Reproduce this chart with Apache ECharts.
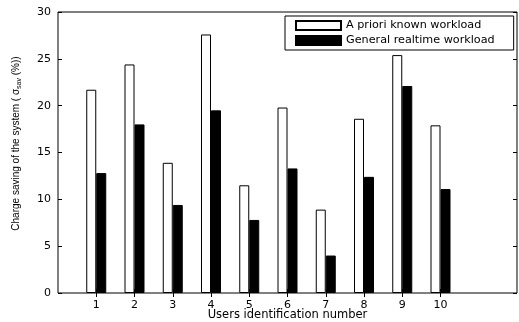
<!DOCTYPE html>
<html>
<head>
<meta charset="utf-8">
<script src="https://cdn.jsdelivr.net/npm/echarts@6/dist/echarts.min.js"></script>
<style>
  html, body { margin: 0; padding: 0; background: #fff; }
  #chart { width: 519px; height: 322px; }
</style>
</head>
<body>
<div id="chart"></div>
<script>
// user ids on the x axis (axis runs 0..12, only 1..10 are labelled)
var userIds = ['1', '2', '3', '4', '5', '6', '7', '8', '9', '10'];
var padLeft = ['0'];
var padRight = ['11', '12'];

// charge saving (%)
var aprioriKnown = [21.7, 24.4, 13.9, 27.6, 11.5, 19.8, 8.9, 18.6, 25.4, 17.9];
var generalRealtime = [12.8, 18.0, 9.4, 19.5, 7.8, 13.3, 4.0, 12.4, 22.1, 11.1];

var yTicks = [0, 5, 10, 15, 20, 25, 30];

var axisCats = padLeft.concat(userIds, padRight);
function pad(arr) {
    return padLeft.map(function () { return '-'; })
        .concat(arr, padRight.map(function () { return '-'; }));
}
function isUser(index) {
    return index >= padLeft.length && index < padLeft.length + userIds.length;
}

// the original figure is stretched sideways, so horizontal text uses the wider DejaVu
var wideFont = 'DejaVu Sans, sans-serif';
var font = 'Liberation Sans, Arial, Helvetica, sans-serif';
var myChart = echarts.init(document.getElementById('chart'));

var option = {
    animation: false,
    textStyle: { fontFamily: wideFont },
    grid: {
        left: 58, right: 2, top: 12, bottom: 29,
        outerBoundsMode: 'none',
        show: true, borderColor: '#000', borderWidth: 1, backgroundColor: '#fff'
    },
    legend: {
        orient: 'vertical',
        left: 285, top: 16,
        padding: [4, 19, 4, 10],
        itemGap: 4,
        itemWidth: 45, itemHeight: 9,
        icon: 'rect',
        borderColor: '#000', borderWidth: 1,
        backgroundColor: '#fff',
        textStyle: { fontSize: 11.2, lineHeight: 9, color: '#000', fontFamily: wideFont },
        data: ['A priori known workload', 'General realtime workload']
    },
    xAxis: [{
        type: 'category',
        data: axisCats,
        boundaryGap: false,
        name: 'Users identification number',
        nameLocation: 'middle',
        nameGap: 16,
        nameMoveOverlap: false,
        nameTextStyle: { fontSize: 11.5, color: '#000', fontFamily: wideFont },
        axisLine: { show: false },
        axisTick: { inside: true, length: 4, interval: function (i) { return isUser(i); }, lineStyle: { color: '#000' } },
        axisLabel: { interval: function (i) { return isUser(i); }, fontSize: 11, color: '#000', margin: 7, fontFamily: wideFont },
        splitLine: { show: false }
    }, {
        type: 'category',
        position: 'top',
        data: axisCats,
        boundaryGap: false,
        axisLine: { show: false },
        axisTick: { inside: true, length: 4, interval: function (i) { return isUser(i); }, lineStyle: { color: '#000' } },
        axisLabel: { show: false },
        splitLine: { show: false }
    }],
    yAxis: [{
        type: 'value',
        min: yTicks[0], max: yTicks[yTicks.length - 1], interval: 5,
        name: '{a0|Charge saving of the system ( σ}{b|sav}{a| (%))}',
        nameLocation: 'middle',
        nameRotate: 90,
        nameGap: 35,
        nameMoveOverlap: false,
        nameTextStyle: {
            color: '#000',
            rich: {
                a0: { fontSize: 10, color: '#000', fontFamily: font, padding: [0, 0, 0, 18] },
                a: { fontSize: 10, color: '#000', fontFamily: font },
                b: { fontSize: 7, color: '#000', fontFamily: font, padding: [6, 0, 0, 0] }
            }
        },
        axisLine: { show: false },
        axisTick: { show: true, inside: true, length: 4, lineStyle: { color: '#000' } },
        axisLabel: { fontSize: 11, color: '#000', margin: 7, fontFamily: wideFont },
        splitLine: { show: false }
    }, {
        type: 'value',
        position: 'right',
        min: yTicks[0], max: yTicks[yTicks.length - 1], interval: 5,
        axisLine: { show: false },
        axisTick: { show: true, inside: true, length: 4, lineStyle: { color: '#000' } },
        axisLabel: { show: false },
        splitLine: { show: false }
    }],
    series: [{
        name: 'A priori known workload',
        type: 'bar',
        data: pad(aprioriKnown),
        barWidth: 10,
        barGap: '0%',
        itemStyle: { color: '#fff', borderColor: '#000', borderWidth: 1 }
    }, {
        name: 'General realtime workload',
        type: 'bar',
        data: pad(generalRealtime),
        barWidth: 10,
        barGap: '0%',
        itemStyle: { color: '#000', borderColor: '#000', borderWidth: 1 }
    }]
};

myChart.setOption(option);
</script>
</body>
</html>
